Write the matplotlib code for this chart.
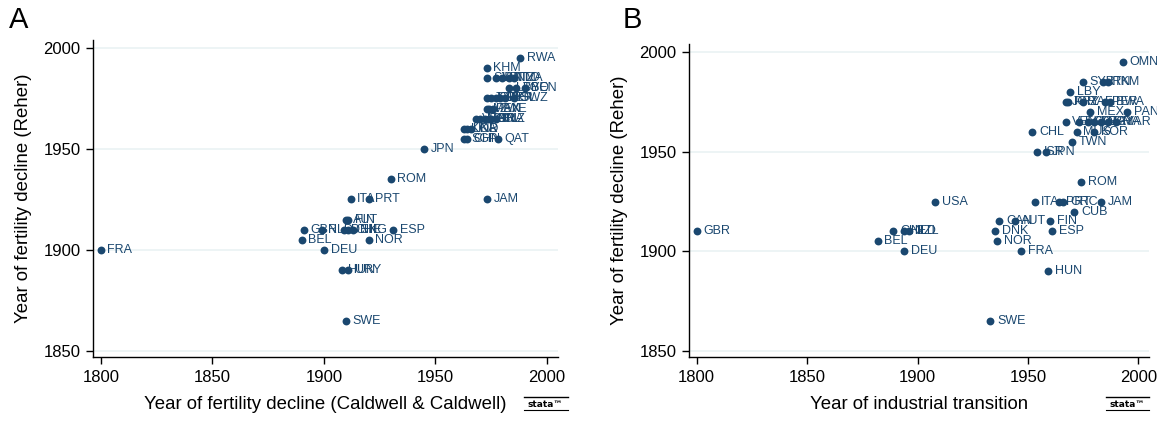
import matplotlib
matplotlib.use("Agg")
import matplotlib.pyplot as plt
from matplotlib.lines import Line2D

plt.rcParams['font.family'] = ['Liberation Sans', 'DejaVu Sans']

NAVY = '#1a476f'
GRID = '#eaf2f3'

# Panel A: Caldwell & Caldwell year (x) vs Reher year (y)
a_codes = ['FRA', 'SWE', 'HUN', 'URY', 'DEU', 'BEL', 'NOR',
           'GBR', 'NLD', 'DNK', 'CHE', 'ENG', 'ESP', 'AUT', 'FIN',
           'ITA', 'PRT', 'ROM', 'JPN', 'JAM',
           'SGP', 'CHN', 'QAT', 'KOR', 'LKA', 'IND',
           'VEN', 'MAR', 'TUN', 'COL', 'BRA', 'BLZ',
           'MEX', 'PAN', 'ZWE',
           'JOR', 'PRY', 'ZAF', 'PER', 'BOL', 'SWZ',
           'LBY', 'TGO', 'BEN',
           'SYR', 'IDN', 'VNM', 'TTO', 'TZA',
           'KHM', 'RWA']
a_x = [1800, 1910, 1908, 1911, 1900, 1890, 1920,
       1891, 1899, 1909, 1911, 1913, 1931, 1910, 1911,
       1912, 1920, 1930, 1945, 1973,
       1963, 1964, 1978, 1963, 1964, 1966,
       1968, 1970, 1972, 1974, 1975, 1977,
       1973, 1974, 1976,
       1973, 1975, 1977, 1979, 1981, 1985,
       1983, 1986, 1990,
       1973, 1977, 1980, 1983, 1985,
       1973, 1988]
a_y = [1900, 1865, 1890, 1890, 1900, 1905, 1905,
       1910, 1910, 1910, 1910, 1910, 1910, 1915, 1915,
       1925, 1925, 1935, 1950, 1925,
       1955, 1955, 1955, 1960, 1960, 1960,
       1965, 1965, 1965, 1965, 1965, 1965,
       1970, 1970, 1970,
       1975, 1975, 1975, 1975, 1975, 1975,
       1980, 1980, 1980,
       1985, 1985, 1985, 1985, 1985,
       1990, 1995]

# Panel B: year of industrial transition (x) vs Reher year (y)
b_codes = ['GBR', 'BEL', 'CHE', 'NLD', 'NZL', 'DEU', 'USA',
           'DNK', 'NOR', 'CAN', 'AUT', 'FRA', 'FIN', 'ESP', 'HUN', 'SWE',
           'ITA', 'PRT', 'GRC', 'JAM', 'CUB', 'ROM',
           'ISR', 'JPN', 'TWN', 'CHL', 'MUS', 'KOR',
           'VEN', 'ECU', 'COL', 'DZA', 'EGY', 'BRA', 'MAR',
           'MEX', 'PAN',
           'JOR', 'PRY', 'ZAF', 'PER', 'BWA',
           'LBY', 'SYR', 'IRN', 'TKM', 'OMN']
b_x = [1800, 1882, 1889, 1894, 1896, 1894, 1908,
       1935, 1936, 1937, 1944, 1947, 1960, 1961, 1959, 1933,
       1953, 1964, 1966, 1983, 1971, 1974,
       1954, 1958, 1970, 1952, 1972, 1980,
       1967, 1973, 1977, 1980, 1983, 1986, 1990,
       1978, 1995,
       1967, 1968, 1975, 1985, 1987,
       1969, 1975, 1984, 1986, 1993]
b_y = [1910, 1905, 1910, 1910, 1910, 1900, 1925,
       1910, 1905, 1915, 1915, 1900, 1915, 1910, 1890, 1865,
       1925, 1925, 1925, 1925, 1920, 1935,
       1950, 1950, 1955, 1960, 1960, 1960,
       1965, 1965, 1965, 1965, 1965, 1965, 1965,
       1970, 1970,
       1975, 1975, 1975, 1975, 1975,
       1980, 1985, 1985, 1985, 1995]

x_ticks = [1800, 1850, 1900, 1950, 2000]
y_ticks = [1850, 1900, 1950, 2000]
y_title = 'Year of fertility decline (Reher)'


def draw_panel(ax, xs, ys, codes, xlabel):
    ax.scatter(xs, ys, s=32, color=NAVY, zorder=3, linewidths=0)
    for c, x, y in zip(codes, xs, ys):
        ax.annotate(c, (x, y), xytext=(4.8, 0), textcoords='offset points',
                    va='center', ha='left', fontsize=9, color=NAVY, zorder=4)
    ax.set_xlim(1796.5, 2005)
    ax.set_ylim(1847, 2004)
    ax.set_xticks(x_ticks)
    ax.set_yticks(y_ticks)
    ax.tick_params(labelsize=12, length=5, width=1, direction='out', pad=4)
    ax.grid(axis='y', color=GRID, linewidth=1.2, zorder=0)
    ax.set_axisbelow(True)
    for s in ['top', 'right']:
        ax.spines[s].set_visible(False)
    for s in ['left', 'bottom']:
        ax.spines[s].set_linewidth(1)
    ax.set_xlabel(xlabel, fontsize=13.4, labelpad=8)
    ax.set_ylabel(y_title, fontsize=13.4, labelpad=8)


def stata_logo(fig, x, y):
    fig.text(x, y, 'stata\u2122', fontsize=6.5, fontweight='bold',
             ha='center', va='center', family='DejaVu Sans')
    w = 0.019
    fig.add_artist(Line2D([x - w, x + w], [y + 0.018, y + 0.018],
                          color='black', lw=1, transform=fig.transFigure))
    fig.add_artist(Line2D([x - w, x + w], [y - 0.013, y - 0.013],
                          color='black', lw=0.8, transform=fig.transFigure))


fig = plt.figure(figsize=(11.57, 4.24), dpi=100)
ax1 = fig.add_axes([0.0804, 0.158, 0.402, 0.748])
ax2 = fig.add_axes([0.5955, 0.158, 0.398, 0.738])

draw_panel(ax1, a_x, a_y, a_codes, 'Year of fertility decline (Caldwell & Caldwell)')
draw_panel(ax2, b_x, b_y, b_codes, 'Year of industrial transition')

fig.text(0.008, 0.952, 'A', fontsize=21, va='center', ha='left')
fig.text(0.538, 0.952, 'B', fontsize=21, va='center', ha='left')

stata_logo(fig, 0.4715, 0.045)
stata_logo(fig, 0.9745, 0.045)

fig.savefig('out.png', dpi=100)
